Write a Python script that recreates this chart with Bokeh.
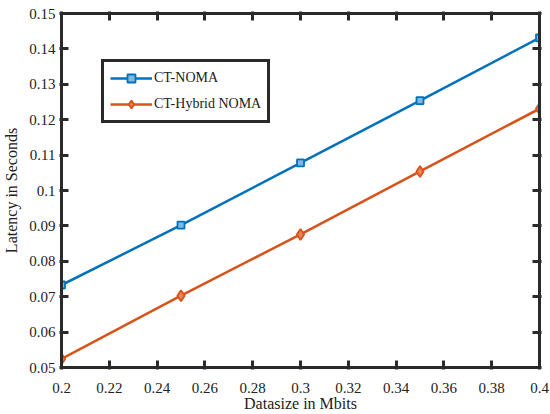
from bokeh.plotting import figure
from bokeh.models import LinearAxis, Range1d, Legend, LegendItem, FixedTicker
from bokeh.embed import file_html
from bokeh.resources import INLINE

datasize = [0.2, 0.25, 0.3, 0.35, 0.4]
ct_noma = [0.0733, 0.0902, 0.1078, 0.1254, 0.1431]
ct_hybrid = [0.0524, 0.0703, 0.0876, 0.1054, 0.1231]
x_ticks = [0.2, 0.22, 0.24, 0.26, 0.28, 0.3, 0.32, 0.34, 0.36, 0.38, 0.4]
y_ticks = [0.05, 0.06, 0.07, 0.08, 0.09, 0.1, 0.11, 0.12, 0.13, 0.14, 0.15]

FONT = "Liberation Serif"
BLUE = "#0072BD"
ORANGE = "#D95319"
INK = "#2a2a2a"

p = figure(width=550, height=414, output_backend="svg", toolbar_location=None,
           x_range=Range1d(0.2, 0.4), y_range=Range1d(0.05, 0.15),
           min_border_left=10, min_border_right=11, min_border_top=13, min_border_bottom=5)
p.xgrid.visible = False
p.ygrid.visible = False
p.outline_line_color = INK
p.outline_line_width = 3
p.outline_line_alpha = 1.0

def style_axis(ax):
    ax.axis_line_width = 3
    ax.axis_line_color = INK
    ax.axis_line_alpha = 1.0
    ax.major_tick_in = 7
    ax.major_tick_out = 2
    ax.major_tick_line_width = 3
    ax.major_tick_line_color = INK
    ax.major_tick_line_alpha = 1.0
    ax.minor_tick_line_color = None
    ax.major_label_text_font = FONT
    ax.major_label_text_font_size = "15px"
    ax.major_label_text_color = "#222222"
    ax.axis_label_text_font = FONT
    ax.axis_label_text_font_size = "16px"
    ax.axis_label_text_font_style = "normal"
    ax.axis_label_text_color = "#222222"

xax = p.xaxis[0]
yax = p.yaxis[0]
xax.ticker = FixedTicker(ticks=x_ticks)
yax.ticker = FixedTicker(ticks=y_ticks)
xax.major_label_overrides = {t: f"{t:g}" for t in x_ticks}
yax.major_label_overrides = {t: f"{t:g}" for t in y_ticks}
xax.axis_label = "Datasize in Mbits"
yax.axis_label = "Latency in Seconds"
style_axis(xax)
style_axis(yax)
xax.major_label_standoff = 13
xax.axis_label_standoff = -1
yax.major_label_standoff = 4
yax.axis_label_standoff = 6

top = LinearAxis(ticker=FixedTicker(ticks=x_ticks))
right = LinearAxis(ticker=FixedTicker(ticks=y_ticks))
style_axis(top)
style_axis(right)
top.major_label_overrides = {t: "" for t in x_ticks}
right.major_label_overrides = {t: "" for t in y_ticks}
top.major_label_standoff = 0
right.major_label_standoff = 0
p.add_layout(top, "above")
p.add_layout(right, "right")

l1 = p.line(datasize, ct_noma, line_color=BLUE, line_width=2.5)
m1 = p.scatter(datasize, ct_noma, marker="square", size=7, line_color=BLUE,
               fill_color="#7fb8e0", line_width=1.8)
l2 = p.line(datasize, ct_hybrid, line_color=ORANGE, line_width=2.5)
m2 = p.scatter(datasize, ct_hybrid, marker="diamond", size=11, line_color=ORANGE,
               fill_color="#e8845a", line_width=1.8)

legend = Legend(items=[LegendItem(label="CT-NOMA", renderers=[l1, m1]),
                       LegendItem(label="CT-Hybrid NOMA", renderers=[l2, m2])],
                location=(40, 244))
legend.label_text_font = FONT
legend.label_text_font_size = "14px"
legend.label_text_color = "#222222"
legend.border_line_color = INK
legend.border_line_alpha = 1.0
legend.border_line_width = 3
legend.glyph_width = 42
legend.label_standoff = 2
legend.spacing = 6
legend.padding = 6
legend.margin = 0
p.add_layout(legend, "center")

open("out.html", "w").write(file_html(p, INLINE))
